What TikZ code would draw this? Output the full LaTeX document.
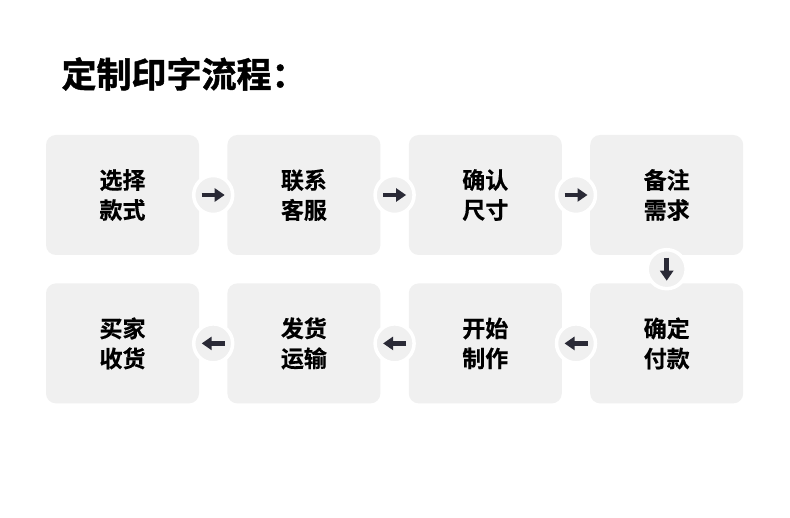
\documentclass[tikz,border=0pt]{standalone}
\usepackage{fontspec}
\usepackage{xcolor}
\usetikzlibrary{arrows.meta,positioning,calc}
\newfontfamily\cjk{Noto Sans CJK SC Bold}[FakeBold=0.4]
\newfontfamily\cjkhead{Noto Sans CJK SC Bold}[FakeBold=1.2]
\definecolor{boxgray}{HTML}{F0F0F0}
\definecolor{arrowink}{HTML}{2A2A36}

\begin{document}
\begin{tikzpicture}[x=1pt,y=-1pt,
box/.style={fill=boxgray,rounded corners=10pt,minimum width=153pt,minimum height=120pt,
  align=center,font=\cjk\fontsize{23}{30}\selectfont,text=black,inner sep=0pt,
  execute at begin node=\rule{0pt}{25pt}},
knob/.style={circle,fill=boxgray,draw=white,line width=3.5pt,minimum size=39pt,inner sep=0pt},
flow/.style={arrowink,line width=4.5pt,-{Triangle[length=10pt,width=13pt]}}]
\useasboundingbox[fill=white](0,0) rectangle (790,518);
\node[anchor=west,font=\cjkhead\fontsize{35}{35}\selectfont] (title) at (58,74) {定制印字流程：};
\node[box] (b1) at (122.5,195) {选择\\款式};
\node[box,right=28pt of b1] (b2) {联系\\客服};
\node[box,right=28pt of b2] (b3) {确认\\尺寸};
\node[box,right=28pt of b3] (b4) {备注\\需求};
\node[box,below=28pt of b4] (b5) {确定\\付款};
\node[box,left=28pt of b5] (b6) {开始\\制作};
\node[box,left=28pt of b6] (b7) {发货\\运输};
\node[box,left=28pt of b7] (b8) {买家\\收货};
\foreach \a/\b in {b1/b2,b2/b3,b3/b4,b4/b5,b5/b6,b6/b7,b7/b8}{
  \node[knob] (k-\a) at ($(\a)!0.5!(\b)$) {};
  \draw[flow,shorten <=2.5pt,shorten >=2.5pt] (\a) -- (\b);
}
\end{tikzpicture}
\end{document}
